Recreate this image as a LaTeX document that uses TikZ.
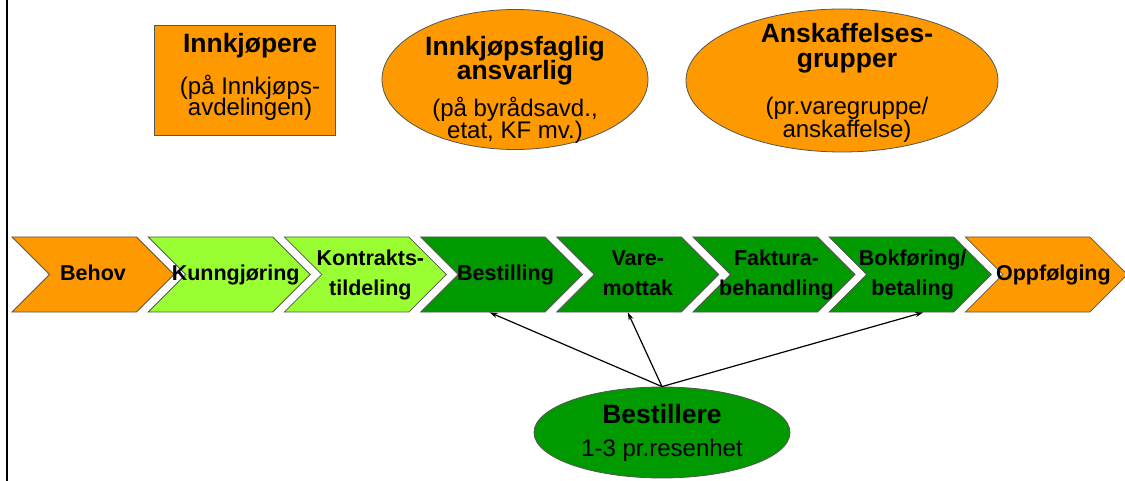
\documentclass[tikz,border=0pt]{standalone}
\usepackage{fontspec}
\setmainfont{Liberation Sans}
\usepackage{xcolor}
\usetikzlibrary{shapes.geometric, shapes.symbols, arrows.meta, positioning, calc}
\definecolor{oransje}{HTML}{FF9900}
\definecolor{lysgroenn}{HTML}{99FF33}
\definecolor{moerkgroenn}{HTML}{009900}
\definecolor{kant}{HTML}{555555}
\newcommand{\tettlinje}{\setlength{\lineskiplimit}{-50pt}}
\newcommand{\tittel}{\fontsize{26.5}{23}\selectfont\bfseries}
\newcommand{\undertekst}{\fontsize{24}{23}\selectfont}
\newcommand{\chevtekst}[2][0pt]{\makebox[0pt]{\hspace*{#1}\hspace*{#1}\begin{tabular}{@{}c@{}}#2\end{tabular}}}
\tikzset{
    chevron/.style={signal, signal from=west, signal to=east, signal pointer angle=90, draw=kant, line width=0.8pt, minimum width=162pt, minimum height=75pt, inner sep=0pt, font=\fontsize{21.5}{30}\selectfont\bfseries},
    boks/.style={rectangle, draw=kant, fill=oransje, line width=0.8pt, minimum width=181pt, minimum height=110pt},
    rolle/.style={ellipse, draw=kant, fill=oransje, line width=0.8pt},
    rolletekst/.style={align=center, inner sep=0pt, font=\fontsize{24}{23}\selectfont\tettlinje},
    arrow/.style={-{Stealth[length=8pt, width=5pt]}, line width=1.2pt},
}
\begin{document}
\begin{tikzpicture}[x=1pt, y=-1pt]
    \useasboundingbox (0,0) rectangle (1125,481);
    \draw[line width=2.5pt] (7,0) -- (7,481);

    % ROLLER
    \node[boks] (innkjoepere) at (244.5,80) {};
    \node[rolletekst] (innkjoeperetekst) at (250,77) {{\tittel Innkjøpere}\\[19pt]{\undertekst (på Innkjøps-}\\[-1.5pt]{\undertekst avdelingen)}};

    \node[rolle, minimum width=266pt, minimum height=140pt] (ansvarlig) at (515,79.5) {};
    \node[rolletekst] (ansvarligtekst) at (515,89.8) {{\tittel Innkjøpsfaglig}\\[1pt]{\tittel ansvarlig}\\[14pt]{\undertekst (på byrådsavd.,}\\[-1pt]{\undertekst etat, KF mv.)}};

    \node[rolle, minimum width=312pt, minimum height=143pt] (grupper) at (842,80.5) {};
    \node[rolletekst] (gruppertekst) at (847,83.2) {{\tittel Anskaffelses-}\\[2pt]{\tittel grupper}\\[24pt]{\undertekst (pr.varegruppe/}\\{\undertekst anskaffelse)}};

    % PROSESS
    \node[chevron, fill=oransje] (behov) at (93,274.5) {\chevtekst{Behov}};
    \node[chevron, fill=lysgroenn] (kunngjoering) at (229.2,274.5) {\chevtekst[6.5pt]{Kunngjøring}};
    \node[chevron, fill=lysgroenn] (tildeling) at (365.4,274.5) {\chevtekst[5pt]{Kontrakts-\\tildeling}};
    \node[chevron, fill=moerkgroenn] (bestilling) at (501.6,274.5) {\chevtekst[4pt]{Bestilling}};
    \node[chevron, fill=moerkgroenn] (varemottak) at (637.8,274.5) {\chevtekst{Vare-\\mottak}};
    \node[chevron, fill=moerkgroenn] (faktura) at (774,274.5) {\chevtekst[2.5pt]{Faktura-\\behandling}};
    \node[chevron, fill=moerkgroenn] (bokfoering) at (910.2,274.5) {\chevtekst[2.5pt]{Bokføring/\\betaling}};
    \node[chevron, fill=oransje] (oppfoelging) at (1046.4,274.5) {\chevtekst[7pt]{Oppfølging}};

    % BESTILLERE
    \node[ellipse, draw=kant, fill=moerkgroenn, line width=0.8pt, minimum width=256pt, minimum height=91pt, inner sep=0pt, align=center, font=\fontsize{24}{23}\selectfont\tettlinje] (bestillere) at (662,432.5) {{\tittel Bestillere}\\[10pt]{\undertekst 1-3 pr.resenhet}};

    % Piler
    \draw[arrow] (bestillere.north) -- ([xshift=-12pt]bestilling.south);
    \draw[arrow] (bestillere.north) -- ([xshift=-10pt]varemottak.south);
    \draw[arrow] (bestillere.north) -- ([xshift=13pt]bokfoering.south);
\end{tikzpicture}
\end{document}
